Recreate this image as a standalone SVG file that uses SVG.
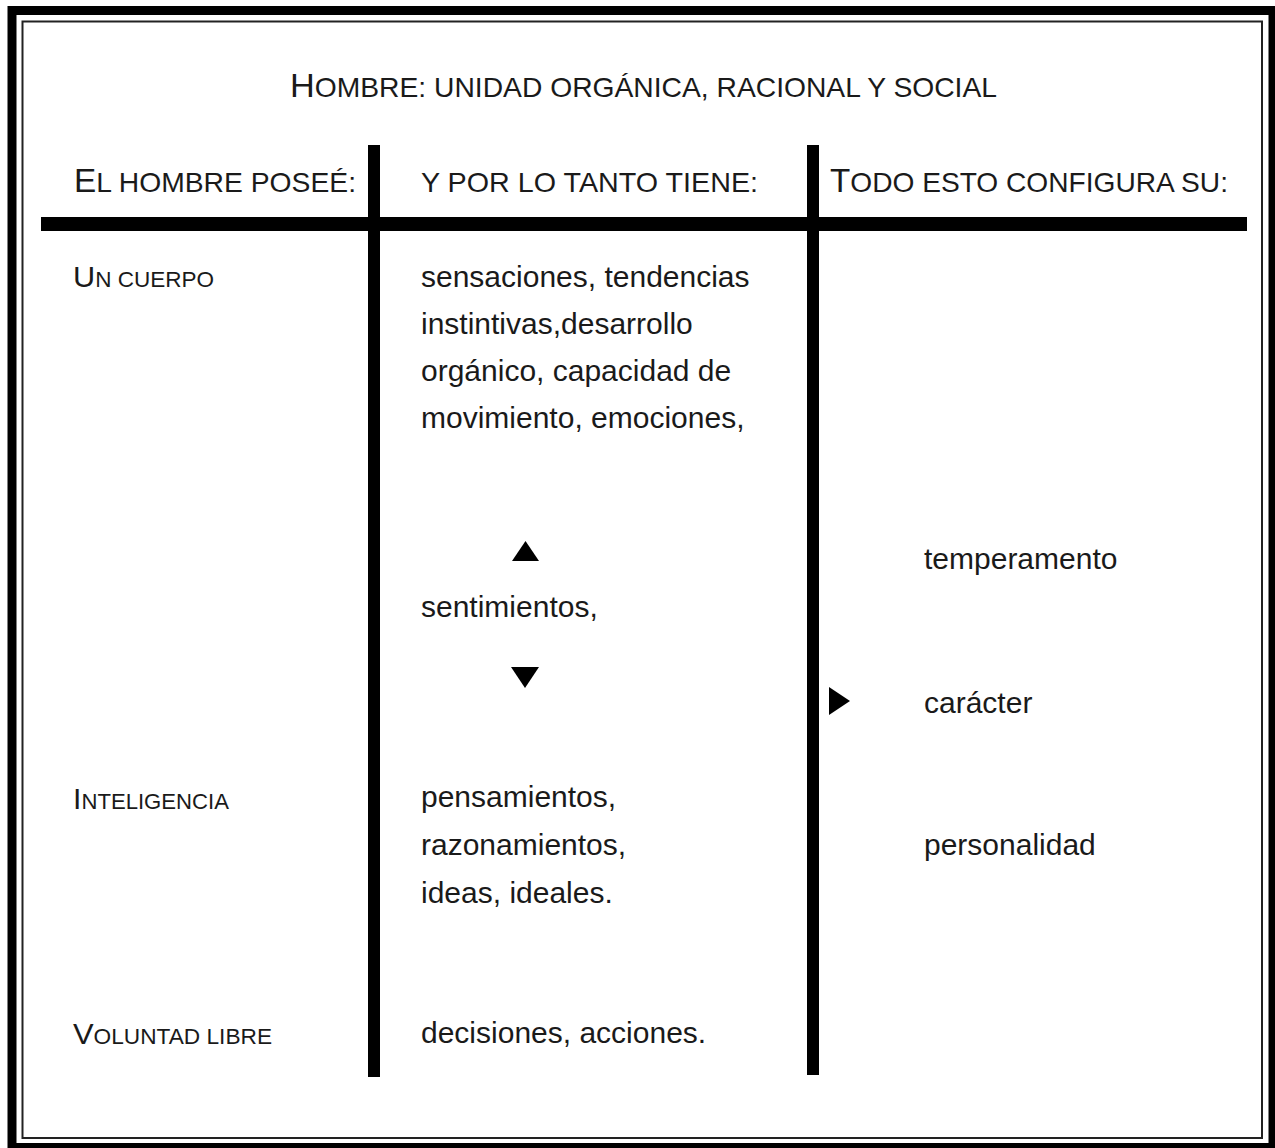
<svg xmlns="http://www.w3.org/2000/svg" width="1275" height="1148" viewBox="0 0 1275 1148">
<style>
  text { font-family: "Liberation Sans", Arial, sans-serif; fill: #1a1a1a; }
  .body { font-size: 30px; }
  .sc { font-size: 28px; }
  .big { font-size: 34px; }
  .lsc { font-size: 22px; }
  .lbig { font-size: 30px; }
  .bar { fill: #000; }
  .tri { fill: #000; }
</style>
<rect x="0" y="0" width="1275" height="1148" fill="#fff"/>
<g id="frame">
  <rect x="12" y="10.5" width="1261" height="1137" fill="none" stroke="#000" stroke-width="9"/>
  <rect x="22.5" y="21.5" width="1239.5" height="1116.5" fill="none" stroke="#222" stroke-width="2"/>
</g>
<g id="title">
  <text x="290" y="97" textLength="707" lengthAdjust="spacingAndGlyphs"><tspan class="big">H</tspan><tspan class="sc">OMBRE: UNIDAD ORGÁNICA, RACIONAL Y SOCIAL</tspan></text>
</g>
<g id="grid">
  <rect class="bar" x="41" y="217" width="1206" height="14"/>
  <rect class="bar" x="368" y="145" width="12" height="932"/>
  <rect class="bar" x="807" y="145" width="12" height="930"/>
</g>
<g id="header-col1">
  <text x="74" y="192" textLength="282" lengthAdjust="spacingAndGlyphs"><tspan class="big" style="font-size:33px">E</tspan><tspan class="sc">L HOMBRE POSEÉ:</tspan></text>
</g>
<g id="header-col2">
  <text class="sc" x="421" y="192" textLength="337" lengthAdjust="spacingAndGlyphs">Y POR LO TANTO TIENE:</text>
</g>
<g id="header-col3">
  <text x="830" y="192" textLength="398" lengthAdjust="spacingAndGlyphs"><tspan class="big" style="font-size:33px">T</tspan><tspan class="sc">ODO ESTO CONFIGURA SU:</tspan></text>
</g>
<g id="row-cuerpo">
  <text x="73" y="287" textLength="141" lengthAdjust="spacingAndGlyphs"><tspan class="lbig">U</tspan><tspan class="lsc">N CUERPO</tspan></text>
  <text class="body" x="421" y="287">sensaciones, tendencias</text>
  <text class="body" x="421" y="334">instintivas,desarrollo</text>
  <text class="body" x="421" y="381">orgánico, capacidad de</text>
  <text class="body" x="421" y="428">movimiento, emociones,</text>
</g>
<g id="sentimientos">
  <text class="body" x="421" y="617">sentimientos,</text>
</g>
<g id="row-inteligencia">
  <text x="73" y="809" textLength="156" lengthAdjust="spacingAndGlyphs"><tspan class="lbig">I</tspan><tspan class="lsc">NTELIGENCIA</tspan></text>
  <text class="body" x="421" y="807">pensamientos,</text>
  <text class="body" x="421" y="855">razonamientos,</text>
  <text class="body" x="421" y="903">ideas, ideales.</text>
</g>
<g id="row-voluntad">
  <text x="73" y="1044" textLength="199" lengthAdjust="spacingAndGlyphs"><tspan class="lbig">V</tspan><tspan class="lsc">OLUNTAD LIBRE</tspan></text>
  <text class="body" x="421" y="1043">decisiones, acciones.</text>
</g>
<g id="results">
  <text class="body" x="924" y="569">temperamento</text>
  <text class="body" x="924" y="713">carácter</text>
  <text class="body" x="924" y="855">personalidad</text>
</g>
<g id="connectors">
  <polygon class="tri" points="512,561 539,561 525.5,541"/>
  <polygon class="tri" points="511,667 539,667 525,688"/>
  <polygon class="tri" points="829,687 829,715 850,701"/>
</g>
</svg>
